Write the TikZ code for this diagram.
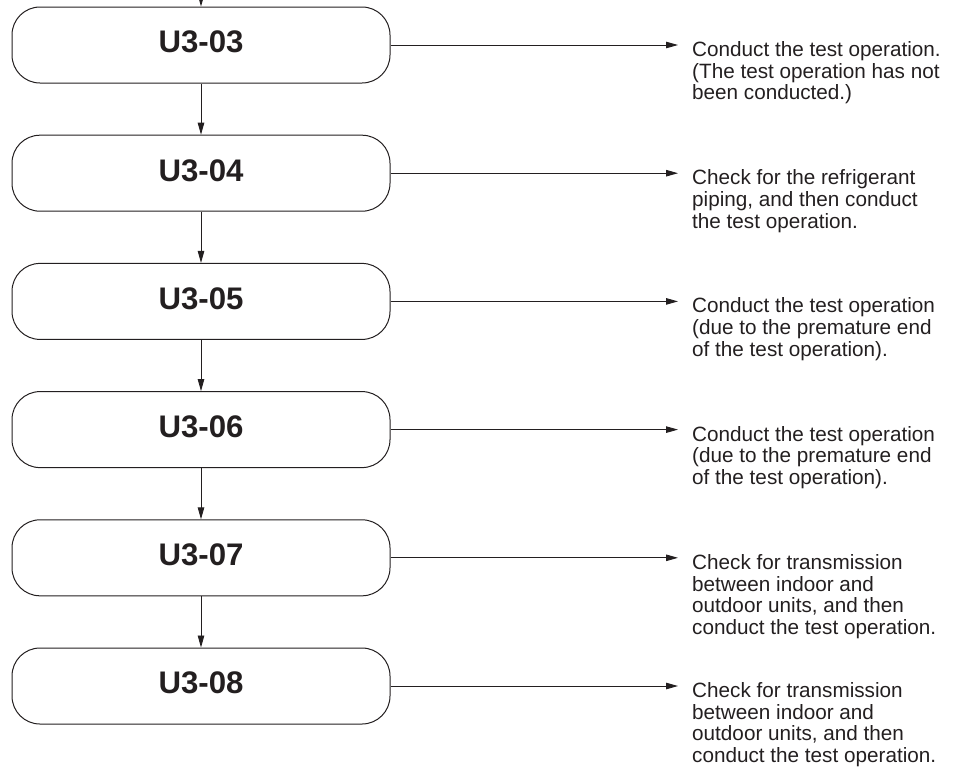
\documentclass[tikz,border=0pt]{standalone}
\usepackage{fontspec}
\setmainfont{Liberation Sans}
\usetikzlibrary{arrows.meta}
\definecolor{ink}{RGB}{35,31,32}
\begin{document}
\begin{tikzpicture}[x=1pt,y=-1pt,
  box/.style={draw=ink, line width=1pt, rounded corners=28pt, minimum width=378pt,
    minimum height=76pt, inner sep=0pt, text=ink, text depth=6pt,
    font=\fontsize{31.2}{36}\selectfont\bfseries},
  note/.style={anchor=base west, inner sep=0pt, text=ink,
    font=\fontsize{20.7}{21.7}\selectfont},
  link/.style={draw=ink, line width=0.9pt, -{Triangle[length=12pt,width=6.5pt]}}]
\useasboundingbox (0,0) rectangle (957,769);

\node[box] (b3) at (201,45)    {U3-03};
\node[box] (b4) at (201,173.2) {U3-04};
\node[box] (b5) at (201,301.4) {U3-05};
\node[box] (b6) at (201,429.6) {U3-06};
\node[box] (b7) at (201,557.8) {U3-07};
\node[box] (b8) at (201,686)   {U3-08};

\coordinate (top) at (201,0);
\draw[link] (top) -- (b3.north);
\draw[link] (b3.south) -- (b4.north);
\draw[link] (b4.south) -- (b5.north);
\draw[link] (b5.south) -- (b6.north);
\draw[link] (b6.south) -- (b7.north);
\draw[link] (b7.south) -- (b8.north);

\node[note] (t3) at (692,56.5)  {\parbox[t]{262pt}{\raggedright Conduct the test operation.\\(The test operation has not\\been conducted.)}};
\node[note] (t4) at (692,184.7) {\parbox[t]{262pt}{\raggedright Check for the refrigerant\\piping, and then conduct\\the test operation.}};
\node[note] (t5) at (692,312.9) {\parbox[t]{262pt}{\raggedright Conduct the test operation\\(due to the premature end\\of the test operation).}};
\node[note] (t6) at (692,441.1) {\parbox[t]{262pt}{\raggedright Conduct the test operation\\(due to the premature end\\of the test operation).}};
\node[note] (t7) at (692,569.3) {\parbox[t]{262pt}{\raggedright Check for transmission\\between indoor and\\outdoor units, and then\\conduct the test operation.}};
\node[note] (t8) at (692,697.5) {\parbox[t]{262pt}{\raggedright Check for transmission\\between indoor and\\outdoor units, and then\\conduct the test operation.}};

\coordinate (e3) at (678,45);
\coordinate (e4) at (678,173.2);
\coordinate (e5) at (678,301.4);
\coordinate (e6) at (678,429.6);
\coordinate (e7) at (678,557.8);
\coordinate (e8) at (678,686);
\draw[link] (b3.east) -- (e3);
\draw[link] (b4.east) -- (e4);
\draw[link] (b5.east) -- (e5);
\draw[link] (b6.east) -- (e6);
\draw[link] (b7.east) -- (e7);
\draw[link] (b8.east) -- (e8);
\end{tikzpicture}
\end{document}
